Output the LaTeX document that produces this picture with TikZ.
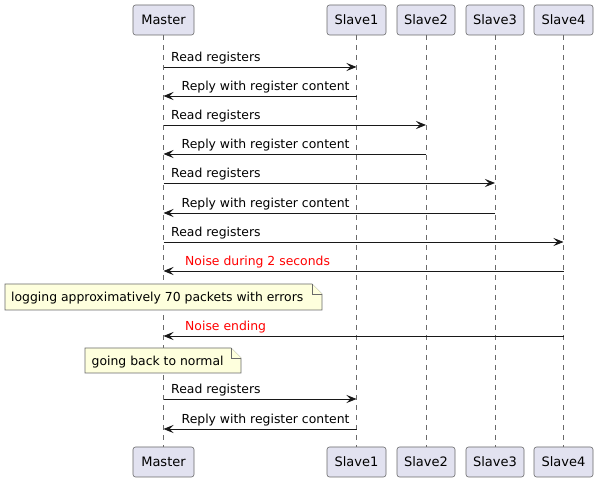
\documentclass[tikz,border=0pt]{standalone}
\usepackage{fontspec}
\setmainfont{DejaVu Sans}
\usetikzlibrary{arrows.meta}
\definecolor{partfill}{HTML}{E2E2F0}
\definecolor{linec}{HTML}{181818}
\definecolor{boxline}{HTML}{6A6A6A}
\definecolor{notefill}{HTML}{FEFFDD}
\definecolor{noisered}{HTML}{FF0000}
\tikzset{
  part/.style={draw=boxline, fill=partfill, line width=0.6pt, rounded corners=2.5pt,
    minimum height=30pt, inner sep=0pt, font=\fontsize{13}{15}\selectfont, text=black},
  life/.style={draw=boxline, line width=0.6pt, dash pattern=on 5pt off 5pt},
  msg/.style={draw=linec, line width=0.9pt, -{Stealth[length=10pt,width=8pt,inset=4pt]}},
  lbl/.style={anchor=base west, inner sep=0pt, font=\fontsize{12.4}{14}\selectfont, text=black},
  redlbl/.style={lbl, text=noisered},
  notebox/.style={draw=boxline, fill=notefill, line width=0.6pt},
}
\begin{document}
\begin{tikzpicture}[x=1pt,y=-1pt]
\path[use as bounding box, fill=white] (0,0) rectangle (598,481);
% participants top
\node[part, minimum width=61pt] (mt) at (163.5,20) {Master};
\node[part, minimum width=59pt] (s1t) at (356.5,20) {Slave1};
\node[part, minimum width=58pt] (s2t) at (426,20) {Slave2};
\node[part, minimum width=58pt] (s3t) at (495,20) {Slave3};
\node[part, minimum width=59pt] (s4t) at (563.5,20) {Slave4};
% participants bottom
\node[part, minimum width=61pt] (mb) at (163.5,462) {Master};
\node[part, minimum width=59pt] (s1b) at (356.5,462) {Slave1};
\node[part, minimum width=58pt] (s2b) at (426,462) {Slave2};
\node[part, minimum width=58pt] (s3b) at (495,462) {Slave3};
\node[part, minimum width=59pt] (s4b) at (563.5,462) {Slave4};
% lifelines
\draw[life] (mt.south) -- (mb.north);
\draw[life] (s1t.south) -- (s1b.north);
\draw[life] (s2t.south) -- (s2b.north);
\draw[life] (s3t.south) -- (s3b.north);
\draw[life] (s4t.south) -- (s4b.north);
% message endpoints
\foreach \n/\y in {1/67,2/96,3/125,4/154,5/183,6/213,7/242,8/271,9/336,10/399,11/429}{
  \coordinate (m\n) at (163.5,\y);
}
\coordinate (a1) at (356.5,67);
\coordinate (a2) at (356.5,96);
\coordinate (a3) at (426,125);
\coordinate (a4) at (426,154);
\coordinate (a5) at (495,183);
\coordinate (a6) at (495,213);
\coordinate (a7) at (563.5,242);
\coordinate (a8) at (563.5,271);
\coordinate (a9) at (563.5,336);
\coordinate (a10) at (356.5,399);
\coordinate (a11) at (356.5,429);
% messages
\draw[msg] (m1) -- (a1);
\node[lbl] (t1) at (171,62) {Read registers};
\draw[msg] (a2) -- (m2);
\node[lbl] (t2) at (181.5,91) {Reply with register content};
\draw[msg] (m3) -- (a3);
\node[lbl] (t3) at (171,120) {Read registers};
\draw[msg] (a4) -- (m4);
\node[lbl] (t4) at (181.5,149) {Reply with register content};
\draw[msg] (m5) -- (a5);
\node[lbl] (t5) at (171,178) {Read registers};
\draw[msg] (a6) -- (m6);
\node[lbl] (t6) at (181.5,208) {Reply with register content};
\draw[msg] (m7) -- (a7);
\node[lbl] (t7) at (171,237) {Read registers};
\draw[msg] (a8) -- (m8);
\node[redlbl] (t8) at (185,266) {Noise during 2 seconds};
% note 1
\draw[notebox] (5,284) -- (312,284) -- (322,294) -- (322,310) -- (5,310) -- cycle;
\draw[notebox] (312,284) -- (312,294) -- (322,294);
\node[lbl] (n1) at (11,302) {logging approximatively 70 packets with errors};
\draw[msg] (a9) -- (m9);
\node[redlbl] (t9) at (185,331) {Noise ending};
% note 2
\draw[notebox] (85,348) -- (231,348) -- (241,358) -- (241,373) -- (85,373) -- cycle;
\draw[notebox] (231,348) -- (231,358) -- (241,358);
\node[lbl] (n2) at (91.5,365.5) {going back to normal};
\draw[msg] (m10) -- (a10);
\node[lbl] (t10) at (171,394) {Read registers};
\draw[msg] (a11) -- (m11);
\node[lbl] (t11) at (181.5,424) {Reply with register content};
\end{tikzpicture}
\end{document}
